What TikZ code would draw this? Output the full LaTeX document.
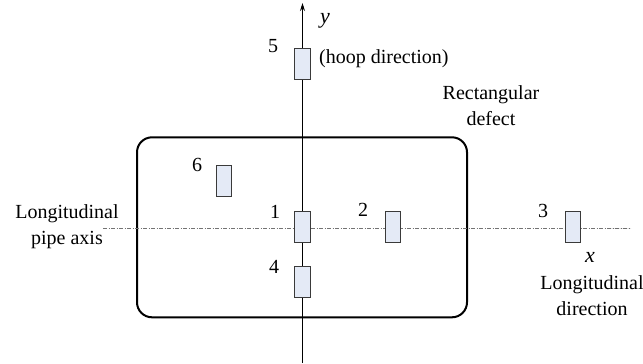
\documentclass[tikz,border=0pt]{standalone}
\usepackage{fontspec}
\setmainfont{Liberation Serif}
\usetikzlibrary{arrows.meta}
\definecolor{gaugefill}{HTML}{E4EAF6}
\definecolor{gaugeline}{HTML}{3A3A3A}
\begin{document}
\begin{tikzpicture}[x=1pt,y=-1pt,
  gauge/.style={draw=gaugeline, fill=gaugefill, line width=0.9pt, minimum width=15.5pt, minimum height=31pt, inner sep=0pt},
  lbl/.style={font=\rmfamily\fontsize{20}{26}\selectfont, inner sep=0pt, align=center},
  ilbl/.style={lbl, font=\rmfamily\itshape\fontsize{22}{26}\selectfont},
  axisarrow/.style={-{Stealth[length=8pt,width=5pt]}},
  pipeaxis/.style={draw=black!55, line width=0.9pt, dash pattern=on 4pt off 1.5pt on 1pt off 1.5pt}]
\useasboundingbox (0,0) rectangle (643,364);
% defect
\node[draw, line width=2pt, rounded corners=15pt, minimum width=330pt, minimum height=180pt, inner sep=0pt] (defect) at (302,227.3) {};
% axes
\coordinate (xs) at (103,228);
\coordinate (xe) at (631,228);
\coordinate (ys) at (302.5,363);
\coordinate (ye) at (302.5,3);
\draw[pipeaxis] (xs) -- (xe);
\draw[axisarrow, draw=none, fill=black!70] (610,228) -- (xe);
\draw[line width=0.9pt, axisarrow] (ys) -- (ye);
% gauges
\node[gauge] (g1) at (302.3,226.5) {};
\node[gauge] (g2) at (393,226.5) {};
\node[gauge] (g3) at (573,226.5) {};
\node[gauge] (g4) at (302.3,282) {};
\node[gauge] (g5) at (302.3,63.5) {};
\node[gauge] (g6) at (224,181) {};
% numbers
\node[lbl] (n1) at (275,212) {1};
\node[lbl] (n2) at (363,209.5) {2};
\node[lbl] (n3) at (543,211) {3};
\node[lbl] (n4) at (274,267) {4};
\node[lbl] (n5) at (273,46) {5};
\node[lbl] (n6) at (197,165) {6};
% labels
\node[ilbl] (ylab) at (325,21) {y};
\node[lbl, anchor=west] (hoop) at (319,59) {(hoop direction)};
\node[lbl] (rect) at (491,106) {Rectangular\\defect};
\node[lbl] (pipe) at (67,227) {Longitudinal\\pipe axis};
\node[ilbl] (xlab) at (590,257) {x};
\node[lbl] (long) at (592,296) {Longitudinal\\direction};
\end{tikzpicture}
\end{document}
